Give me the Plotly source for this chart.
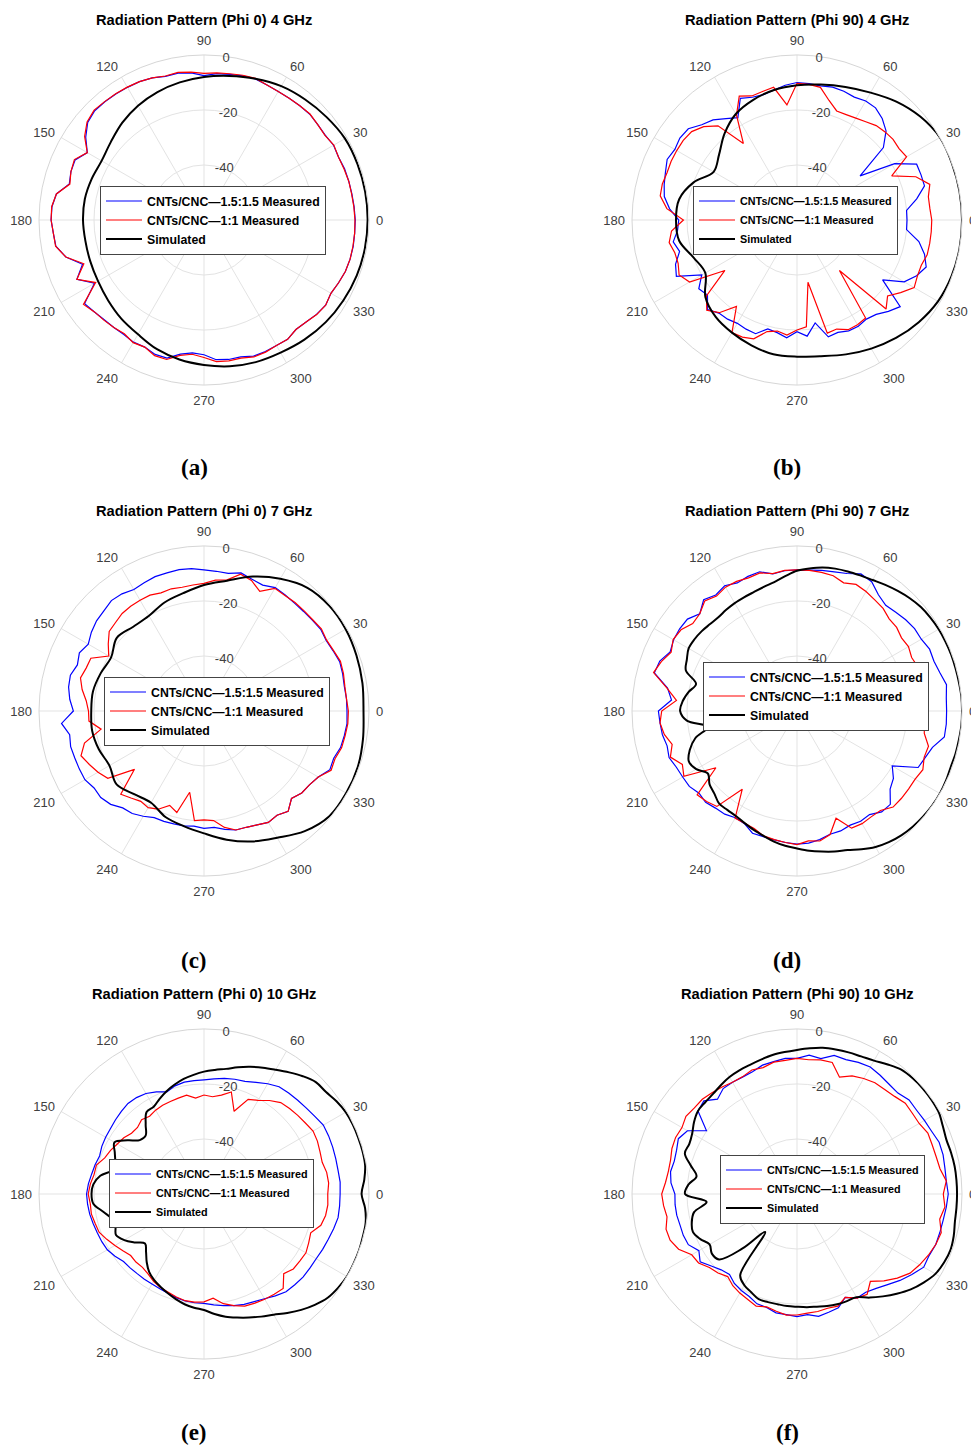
import plotly.graph_objects as go

W, H = 971, 1445

# angle grids (degrees)
ANG5 = list(range(0, 360, 5))
ANG10 = list(range(0, 360, 10))

# ---- (a) Phi 0, 4 GHz ----
a_sim = [-0.5, -0.5, -0.6, -0.8, -1.8, -2.8, -3.8, -5.3, -6.8, -8, -9.2, -10.5,
         -12, -13.8, -15.8, -17, -16.5, -16, -16, -16.2, -16, -15.5, -14.5, -13.2,
         -12, -10, -8.5, -7.3, -6, -5, -4.3, -3.2, -2.2, -1.5, -0.9, -0.6]
a_m15 = [-5.0, -5.2, -5.4, -5.5, -5.6, -6.0, -5.6, -6.2, -6.0, -5.6, -5.8, -6.0,
         -6.0, -5.8, -5.4, -5.7, -6.2, -6.6, -7.5, -6.3, -5.8, -5.9, -5.0, -4.5,
         -4.3, -4.1, -3.9, -3.8, -4.8, -7.5, -11.0, -8.3, -8.5, -9.3, -5.5, -4.5,
         -4.4, -5.0, -5.3, -8.0, -13.0, -9.0, -14.0, -7.0, -8.0, -8.7, -9.0, -9.2,
         -8.7, -9.0, -8.0, -8.0, -10.5, -11.5, -11.0, -9.0, -8.5, -8.5, -7.3, -7.2,
         -7.3, -7.0, -8.0, -7.5, -6.6, -6.0, -6.7, -6.0, -5.3, -5.0, -4.9, -5.0]
a_m11 = [-5.1, -5.3, -5.5, -5.5, -5.8, -6.0, -5.5, -6.3, -6.0, -5.5, -5.8, -6.0,
         -6.0, -5.8, -5.2, -5.5, -6.0, -6.3, -6.7, -6.0, -5.5, -5.8, -5.0, -4.5,
         -4.2, -4.0, -3.8, -3.5, -4.5, -7.0, -11.0, -8.0, -8.5, -9.5, -5.5, -4.4,
         -4.4, -5.0, -5.2, -8.0, -13.5, -9.0, -14.5, -6.5, -8.0, -8.5, -9.0, -9.5,
         -8.5, -9.0, -7.5, -7.5, -10.0, -11.0, -10.0, -8.3, -8.0, -8.0, -7.0, -7.0,
         -7.3, -7.0, -8.0, -7.5, -6.5, -6.0, -6.7, -6.0, -5.3, -5.0, -5.0, -5.0]

# ---- (b) Phi 90, 4 GHz ----
b_sim = [0, 0, 0, 0, -1.5, -3.8, -6.5, -8.5, -10, -11, -12, -13.5,
         -15.5, -19, -23, -25, -20, -16.5, -16, -16.5, -20, -21.5, -16.5, -14,
         -12.7, -11.5, -10.4, -10.3, -9.7, -8, -6, -4, -2.2, -0.8, -0.2, 0]
b_m15 = [-20, -20, -15.8, -12, -12, -12, -19, -32, -19, -14.2, -11.8, -10.2,
         -10, -10.7, -10.2, -10, -10.5, -10.2, -10, -10.8, -12, -12.8, -12.5, -11.2,
         -17, -15, -12.5, -11, -8.4, -8, -8.7, -7.9, -9.1, -10, -11, -13.5,
         -17, -16.4, -14.3, -15.8, -13, -11.6, -20, -16.4, -17.5, -14, -15.8, -16,
         -16.6, -16.2, -16, -19, -18.4, -17, -19.4, -17.6, -22, -16, -16.5, -15.5,
         -15.4, -16, -15.2, -13, -11, -22, -15, -12, -10, -12, -15, -20]
b_m11 = [-11, -11.5, -11.5, -10, -14, -22, -14, -14.7, -14.4, -14.7, -15.2, -16.4,
         -17.2, -17.7, -17.8, -15, -11, -10.5, -10.3, -18, -11, -11.6, -12, -10.3,
         -16, -26, -15.3, -12, -10, -9.5, -9.5, -9.5, -9.7, -9.3, -9.5, -12.5,
         -18.7, -14.2, -12.8, -14, -14, -12.7, -14.9, -28, -17, -13.6, -16, -21.6,
         -12.7, -13, -14, -18, -19, -18, -20, -21, -37, -17.4, -17.8, -16,
         -16, -16.5, -36, -14.2, -17, -14, -10.8, -11.7, -11.9, -11, -11, -11]

# ---- (c) Phi 0, 7 GHz ----
c_sim = [-2, -1.5, -1, -0.5, -0.5, -1.5, -4.5, -8, -11.9, -14.2, -16.5, -18,
         -20, -20, -18.6, -21, -20, -19, -19, -18.7, -19.3, -20.3, -18.5, -20.5,
         -21.5, -19, -17.5, -15.5, -12.5, -9.5, -6.8, -3, -0.5, -0.3, -0.5, -1.3]
c_m15 = [-8, -8, -8.2, -7.8, -7.5, -8.2, -8.7, -8.2, -8.6, -8.8, -8.8, -8.5,
         -8.2, -9.5, -9, -8, -9.2, -9, -8.7, -8, -7.8, -8, -8, -8.5,
         -9, -8, -7.6, -8.5, -9, -10, -11.4, -10, -11, -9.7, -10, -11,
         -12.5, -8, -10.4, -9.8, -10, -10, -10, -11.2, -11, -12, -14, -14.5,
         -15.8, -17.2, -17.3, -17.5, -17.6, -18, -17.3, -17.5, -16.3, -15.2, -15, -14.3,
         -13.2, -13.7, -12.4, -15, -13.6, -13.2, -12, -9.5, -9.8, -8.6, -8.2, -7.8]
c_m11 = [-7.5, -8, -8, -7.5, -7.2, -8, -8.5, -7.9, -8.4, -8.5, -8.5, -8.7,
         -8.5, -12, -9.5, -8.5, -11.6, -12.2, -13.6, -14, -14.3, -14, -14.3, -13.5,
         -13.5, -13.5, -13.7, -14.5, -15, -17.5, -20, -14.6, -14.4, -13.5, -15, -17,
         -18, -18, -22, -15, -12.4, -14, -15.5, -17.3, -27, -17.2, -18.7, -19.9,
         -19.4, -20.6, -23.5, -21.8, -30, -20, -20.4, -20, -17, -15.2, -15, -14.3,
         -13.2, -13.7, -12.4, -15, -13.6, -13.2, -12, -9, -9.3, -8.2, -7.9, -7.5]

# ---- (d) Phi 90, 7 GHz ----
d_sim = [0, 0, -0.2, -0.3, -0.3, -0.4, -0.5, -0.8, -1.2, -2, -3, -4,
         -5, -5.6, -6, -6.4, -7, -8, -9, -10.8, -12.4, -13.3, -14, -14.4,
         -14.7, -15.1, -15.5, -15.3, -14.8, -14.5, -14.5, -15.8, -17, -22, -20, -18.3,
         -17.5, -19.8, -27, -21.7, -18.5, -16.6, -17.7, -20.4, -18.5, -17.5, -16, -16,
         -15.8, -15, -14, -13, -11.8, -10.8, -10, -9, -8.1, -7.1, -6.2, -4.5,
         -2.9, -1.8, -1, -0.5, -0.2, 0, 0, -0.2, -0.5, -0.3, -0.2, 0]
d_m15 = [-5.6, -5.5, -4.8, -6.2, -7, -6.8, -7.8, -7.8, -8.4, -9.2, -9.8, -8.4,
         -5.7, -5, -6.8, -7.6, -8.1, -8.6, -8.7, -8.8, -9.4, -7.6, -7.9, -8.6,
         -7.4, -8.5, -7.2, -10, -8, -7.9, -8.2, -9.1, -6.9, -6.3, -12.2, -14.2,
         -9.6, -10, -10.3, -11.1, -10.5, -11.6, -12, -12.2, -13.5, -13, -13.9, -14.2,
         -15.2, -14.8, -12.7, -12.7, -12.4, -12, -11.6, -11.8, -12.5, -13.6, -13.6, -14.2,
         -13.7, -14, -12.1, -12, -15.8, -17.2, -20, -11.4, -10.4, -9, -5.6, -5.5]
d_m11 = [-13.5, -13, -12, -12.1, -13.2, -14, -13.2, -13.6, -12.7, -12.6, -11.3, -10.7,
         -9.8, -9.2, -10.4, -9.1, -8.8, -8.7, -8.7, -8.7, -9.3, -8, -8.5, -8,
         -8, -9, -7.8, -10, -10.5, -8.5, -8, -9.5, -7.5, -6, -12, -16,
         -10.8, -10, -11, -13, -11, -14, -12.5, -24, -12.6, -13.5, -14.7, -25.3,
         -15, -15, -14.5, -13, -12.5, -12, -11.4, -12.6, -12, -13.5, -18.5, -13,
         -12.7, -13, -12.8, -10.6, -10.5, -10.5, -10.4, -9.5, -10.8, -10.5, -13, -13.5]

# ---- (e) Phi 0, 10 GHz ----
e_sim = [-2.7, -1.5, -0.5, -0.3, -0.3, -0.3, -0.5, -1.2, -2.2, -2.5, -4.1, -6,
         -7.8, -9.3, -10.8, -12.3, -13.8, -14.7, -15.5, -16.5, -17.5, -18.8, -20.2, -21.8,
         -23.4, -23.6, -27, -30, -29.5, -26, -22.4, -24.2, -25.6, -25.8, -21.7, -19.6,
         -19.1, -19.6, -22.8, -25.3, -25.7, -24.7, -26.5, -29.3, -32, -30.2, -27.6, -25.3,
         -23.8, -22.7, -21.6, -20.4, -19.3, -18.5, -17.8, -16.2, -14.7, -13.5, -12.2, -10.8,
         -9.3, -7.2, -5, -3, -1.3, -0.5, 0, 0, 0, -0.2, -0.3, -1.2]
e_m15 = [-10.5, -10.3, -10.5, -10.4, -10.2, -10, -9.9, -10.8, -11.4, -11.8, -12.1, -12.4,
         -13.7, -15.2, -16.4, -16.8, -17.3, -18, -18.5, -18.6, -18.7, -19.3, -20.5, -19,
         -17.8, -17.2, -17, -17.5, -18, -18.5, -18.7, -19, -19.6, -19, -18.5, -17.8,
         -17.3, -17.5, -17.8, -18.3, -18.7, -19, -19.4, -20.5, -21.8, -22, -22.2, -22.2,
         -22.2, -22, -21.6, -21, -20.5, -20.3, -20.2, -19.5, -18.8, -18, -17.3, -16.8,
         -16, -14.8, -13.6, -13.3, -13, -13, -12.9, -12.4, -11.9, -11.2, -10.5, -10.5]
e_m11 = [-15, -14.5, -14.7, -15.5, -15.1, -14.5, -14.2, -15, -15.5, -16, -16.6, -18.5,
         -20.7, -22, -28, -21.6, -23.5, -24.5, -24, -25, -23.5, -23.9, -24.2, -24.4,
         -24.8, -25.5, -24.7, -25.8, -25.6, -24.4, -23.6, -22.5, -21.6, -19.5, -19.4, -18.5,
         -17.9, -18.5, -18.4, -19, -19.4, -21, -22.6, -24, -25.2, -25, -25.2, -24.5,
         -23.3, -22.5, -22, -21.2, -20.6, -20.5, -20.8, -22, -19.5, -18, -16.6, -16.2,
         -15.8, -15.5, -15.2, -19, -17.6, -17.5, -17.2, -18, -18.7, -16, -15.1, -14.8]

# ---- (f) Phi 90, 10 GHz ----
f_sim = [-1.8, -1.8, -1.8, -2, -2.2, -1.5, -0.5, -0.3, -0.3, -0.5, -1, -2.5,
         -4, -4.8, -5.2, -5.6, -6, -6.8, -7.6, -8.2, -8.7, -9.4, -10, -10.4,
         -10.9, -11.7, -12.5, -12.8, -13, -14.3, -16, -16.8, -16.6, -20, -22.9, -20.4,
         -19.3, -27, -22, -20.4, -19.7, -21.2, -23.3, -22.2, -23, -32, -42, -24,
         -21.7, -20.6, -19.3, -19.3, -19.3, -19.1, -19, -18.7, -18.4, -17.8, -17.3, -17,
         -16.7, -14, -11.4, -8.7, -6, -3.8, -1.9, -1, -0.6, -1, -1.7, -1.8]
f_m15 = [-5, -5.5, -5.4, -5, -5, -6, -6.5, -6.9, -6.8, -8.1, -7.9, -7.3,
         -6.7, -7.2, -8, -7.8, -10, -9.3, -10.7, -10.5, -11.1, -11.5, -12.7, -13.1,
         -13.1, -13.2, -15, -12.1, -13, -19.8, -14, -12.4, -13.4, -13.8, -13.3, -14,
         -15.6, -15.5, -15.6, -16, -16, -16.4, -18.8, -17, -19.3, -21, -21.8, -20.3,
         -19.5, -18.9, -17.5, -17.3, -16.1, -16, -15.4, -16, -14.8, -15.5, -16, -18.5,
         -16.3, -16.4, -15.2, -13.4, -11.1, -9, -6.8, -7, -6.3, -6.2, -6, -5.5]
f_m11 = [-6.8, -5.5, -7.2, -7.6, -7.7, -7.5, -8.7, -8.8, -8.6, -9.8, -10.4, -10.6,
         -11.5, -12.6, -14.8, -10.5, -10.5, -11, -10.7, -11.2, -11.3, -12.4, -12, -13,
         -13.1, -12.5, -11.9, -11.3, -11.3, -10.7, -11.7, -11.3, -11.6, -12.4, -12.5, -12,
         -10.8, -11.3, -12, -10.7, -10.9, -12.5, -15.8, -16.3, -18.4, -19.4, -20.8, -19.3,
         -18.4, -17.7, -16.6, -17.5, -16.7, -15.8, -16, -16.5, -16.6, -17, -16.6, -18.5,
         -16.3, -15.5, -18.5, -15.3, -12.4, -9.8, -8.5, -7.3, -6.3, -5.7, -7.3, -6]

TITLES = ["Radiation Pattern (Phi 0) 4 GHz", "Radiation Pattern (Phi 90) 4 GHz",
          "Radiation Pattern (Phi 0) 7 GHz", "Radiation Pattern (Phi 90) 7 GHz",
          "Radiation Pattern (Phi 0) 10 GHz", "Radiation Pattern (Phi 90) 10 GHz"]
LETTERS = ["(a)", "(b)", "(c)", "(d)", "(e)", "(f)"]
NAMES = ["CNTs/CNC\u20141.5:1.5 Measured", "CNTs/CNC\u20141:1 Measured", "Simulated"]
ANGLE_TICKS = list(range(0, 360, 30))
R_TICKS = [-40, -20, 0]

panels = [
    (ANG10, a_sim, a_m15, a_m11),
    (ANG10, b_sim, b_m15, b_m11),
    (ANG10, c_sim, c_m15, c_m11),
    (ANG5, d_sim, d_m15, d_m11),
    (ANG5, e_sim, e_m15, e_m11),
    (ANG5, f_sim, f_m15, f_m11),
]

# layout geometry in pixels: polar centres, radius, legend boxes (left, centre y, font)
CX = [204, 797]
CY = [220, 711, 1194]
RAD = 165
LEG_POS = [(100, 219.5, 12.3), (693, 219.5, 10.8), (104, 710.5, 12.3),
           (703, 695.5, 12.3), (109, 1192.5, 10.8), (720, 1188.5, 10.8)]
LEG_HALF = 34
TITLE_Y = [20, 511, 994]
LETTER_Y = [467, 960, 1432]
FONT = "Liberation Sans, Arial, sans-serif"


def px(x):
    return x / W


def py(y):
    return 1 - y / H


def closed(theta, r):
    return list(theta) + [360], list(r) + [r[0]]


fig = go.Figure()
layout = dict(width=W, height=H, margin=dict(l=0, r=0, t=0, b=0),
              paper_bgcolor="white", plot_bgcolor="white", showlegend=True,
              annotations=[])

for i, (sim_ang, sim, m15, m11) in enumerate(panels):
    col, row = i % 2, i // 2
    pid = "polar" if i == 0 else f"polar{i + 1}"
    lid = "legend" if i == 0 else f"legend{i + 1}"
    for name, theta, r, color, width, shape in [
        (NAMES[0], ANG5, m15, "#0000ff", 1.2, "linear"),
        (NAMES[1], ANG5, m11, "#ff0000", 1.2, "linear"),
        (NAMES[2], sim_ang, sim, "#000000", 2.0, "spline"),
    ]:
        t, rr = closed(theta, r)
        fig.add_trace(go.Scatterpolar(
            theta=t, r=rr, mode="lines", name=name, subplot=pid, legend=lid,
            line=dict(color=color, width=width, shape=shape),
            hoverinfo="skip"))

    cx, cy = CX[col], CY[row]
    layout[pid] = dict(
        domain=dict(x=[px(cx - RAD), px(cx + RAD)], y=[py(cy + RAD), py(cy - RAD)]),
        bgcolor="white",
        angularaxis=dict(rotation=0, direction="counterclockwise",
                         tickmode="array", tickvals=ANGLE_TICKS,
                         ticktext=[str(a) for a in ANGLE_TICKS],
                         ticks="outside", ticklen=4, tickcolor="rgba(0,0,0,0)",
                         showline=True, linecolor="#d6d6d6", linewidth=1,
                         gridcolor="#e3e3e3", gridwidth=1,
                         tickfont=dict(family=FONT, size=13, color="#404040")),
        # hidden axis line; labels sit beside it, so the line is tilted past 80 deg
        radialaxis=dict(range=[-60, 0], tickmode="array", tickvals=R_TICKS,
                        ticktext=[str(v) for v in R_TICKS], angle=86, tickangle=86,
                        side="clockwise", ticks="", showline=False,
                        gridcolor="#e3e3e3", gridwidth=1,
                        tickfont=dict(family=FONT, size=13, color="#404040")),
    )
    lx, lcy, lfs = LEG_POS[i]
    layout[lid] = dict(x=px(lx), y=py(lcy - LEG_HALF), xanchor="left", yanchor="top",
                       bgcolor="white", bordercolor="#444444", borderwidth=1,
                       font=dict(family=FONT, size=lfs, color="black", weight="bold"),
                       tracegroupgap=0, itemwidth=36)
    layout["annotations"].append(dict(
        text=f"<b>{TITLES[i]}</b>", x=px(cx), y=py(TITLE_Y[row]), xref="paper",
        yref="paper", xanchor="center", yanchor="middle", showarrow=False,
        font=dict(family=FONT, size=14.7, color="black")))
    layout["annotations"].append(dict(
        text=f"<b>{LETTERS[i]}</b>", x=px(cx - 10), y=py(LETTER_Y[row]), xref="paper",
        yref="paper", xanchor="center", yanchor="middle", showarrow=False,
        font=dict(family="Liberation Serif, DejaVu Serif, serif", size=23, color="black")))

fig.update_layout(**layout)
fig.write_html("out.html")
